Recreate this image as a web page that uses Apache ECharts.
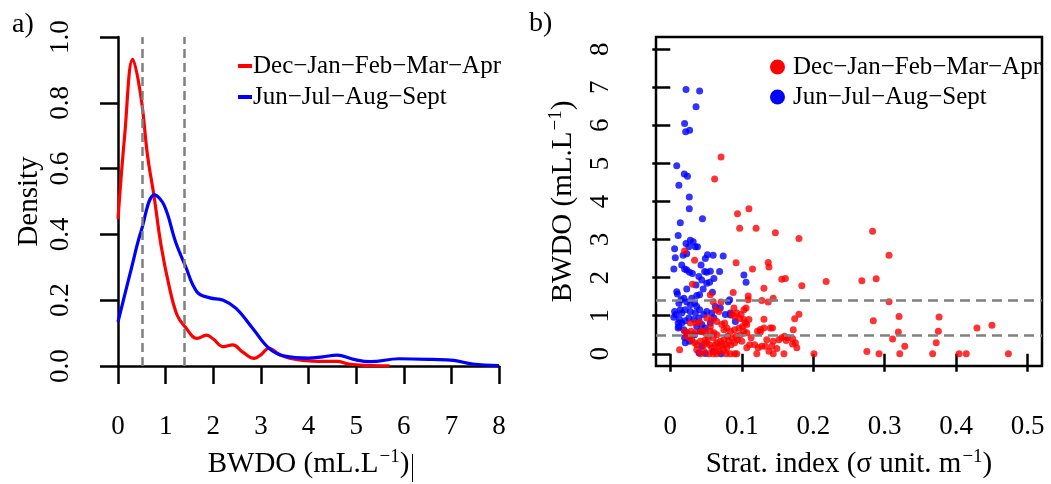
<!DOCTYPE html>
<html>
<head>
<meta charset="utf-8">
<script src="https://cdn.jsdelivr.net/npm/echarts@6/dist/echarts.min.js"></script>
<style>
  html, body { margin: 0; padding: 0; background: #ffffff; }
  #chart { width: 1051px; height: 484px; }
</style>
</head>
<body>
<div id="chart"></div>
<script>
// Season groups
const seasonWinter = 'Dec−Jan−Feb−Mar−Apr';
const seasonSummer = 'Jun−Jul−Aug−Sept';

// Panel a: kernel density of bottom-water dissolved oxygen, [BWDO, density]
const densityWinter = [
  [0, 0.447], [0.14, 0.70], [0.31, 0.932], [0.48, 0.82], [0.62, 0.64], [0.76, 0.513],
  [0.9, 0.37], [1.07, 0.245], [1.24, 0.155], [1.41, 0.119], [1.66, 0.084], [1.86, 0.094],
  [2.0, 0.082], [2.21, 0.059], [2.41, 0.064], [2.62, 0.042], [2.86, 0.023], [3.0, 0.034],
  [3.17, 0.054], [3.4, 0.034], [3.6, 0.024], [3.85, 0.018], [4.2, 0.014], [4.6, 0.014],
  [4.85, 0.006], [5.2, 0.002], [5.7, 0.0005]
];
const densitySummer = [
  [0, 0.134], [0.28, 0.296], [0.48, 0.407], [0.77, 0.52], [0.97, 0.488], [1.21, 0.377],
  [1.41, 0.306], [1.66, 0.225], [1.93, 0.207], [2.21, 0.2], [2.48, 0.175], [2.83, 0.114],
  [3.17, 0.054], [3.5, 0.03], [4.0, 0.024], [4.3, 0.028], [4.6, 0.033], [4.95, 0.02],
  [5.3, 0.013], [5.9, 0.022], [6.6, 0.02], [7.05, 0.017], [7.45, 0.006], [8, 0.001]
];

// Oxygen thresholds (mL.L-1) drawn as dashed guides in both panels
const thresholds = [0.5, 1.4];

// Tick values
const bwdoTicks = [0, 1, 2, 3, 4, 5, 6, 7, 8];
const stratTicks = [0, 0.1, 0.2, 0.3, 0.4, 0.5];

// Panel b: stratification index vs BWDO, [strat. index, BWDO]
const scatterSummer = [
  [0.022, 6.94], [0.041, 6.90], [0.036, 6.49], [0.020, 6.05], [0.0215, 5.83], [0.027, 5.87],
  [0.009, 4.94], [0.0196, 4.72], [0.024, 4.66], [0.012, 4.43], [0.0266, 4.12], [0.0266, 3.81],
  [0.045, 3.55], [0.014, 3.44], [0.011, 3.11], [0.006, 2.76], [0.007, 2.52], [0.005, 2.23],
  [0.009, 1.63], [0.010, 1.57],
  [0.022, 2.90], [0.028, 2.98], [0.032, 2.94], [0.035, 2.81], [0.038, 2.81], [0.026, 2.81],
  [0.018, 2.59], [0.023, 2.63], [0.060, 2.59], [0.074, 2.57], [0.049, 2.50], [0.043, 2.33],
  [0.016, 2.33], [0.020, 2.23], [0.023, 2.20], [0.027, 2.14], [0.031, 2.11], [0.048, 2.16],
  [0.051, 2.14], [0.056, 2.17], [0.069, 2.16], [0.040, 2.03], [0.044, 1.94], [0.061, 1.98],
  [0.051, 1.85], [0.055, 1.88], [0.036, 1.81], [0.023, 1.70], [0.046, 1.70], [0.059, 1.62],
  [0.037, 1.53], [0.041, 1.55], [0.103, 2.07], [0.106, 1.88], [0.081, 1.37], [0.030, 1.46],
  [0.006, 1.11], [0.0075, 1.03], [0.005, 0.96], [0.012, 1.33], [0.015, 1.42], [0.019, 1.46],
  [0.023, 1.36], [0.028, 1.29], [0.034, 1.33], [0.037, 1.24], [0.041, 1.16], [0.035, 1.07],
  [0.028, 1.11], [0.021, 1.16], [0.016, 1.07], [0.013, 0.90], [0.012, 0.72], [0.016, 0.81],
  [0.021, 0.87], [0.026, 0.94], [0.033, 0.90], [0.040, 0.94], [0.047, 1.03], [0.051, 1.11],
  [0.058, 1.07], [0.061, 0.94], [0.056, 0.81], [0.044, 0.77], [0.037, 0.72], [0.019, 0.63],
  [0.023, 0.55], [0.020, 0.42], [0.021, 0.29], [0.027, 0.33], [0.034, 0.50], [0.042, 0.59],
  [0.049, 0.68], [0.044, 0.20], [0.040, 0.03], [0.049, 0.01], [0.060, 0.07], [0.071, 0.0],
  [0.077, 1.03], [0.084, 1.07], [0.091, 0.85], [0.070, 1.20], [0.063, 1.24], [0.083, 1.42],
  [0.014, 1.16], [0.011, 0.81], [0.011, 0.68], [0.052, 2.60], [0.084, 1.02]
];
const scatterWinter = [
  [0.071, 5.17], [0.062, 4.59], [0.094, 3.68], [0.110, 3.81], [0.097, 3.30], [0.120, 3.30],
  [0.147, 3.18], [0.180, 3.03], [0.283, 3.22], [0.306, 2.59], [0.020, 2.70], [0.034, 2.46],
  [0.092, 2.39], [0.137, 2.40], [0.138, 2.28], [0.115, 2.23], [0.156, 1.96], [0.161, 1.98],
  [0.184, 1.79], [0.218, 1.90], [0.268, 1.92], [0.288, 1.97], [0.031, 1.83], [0.131, 1.72],
  [0.088, 1.61], [0.056, 1.55], [0.109, 1.52], [0.144, 1.46], [0.128, 1.40], [0.137, 1.36],
  [0.306, 1.37], [0.060, 1.37], [0.071, 1.36], [0.109, 1.42], [0.180, 1.04], [0.174, 0.92],
  [0.320, 0.98], [0.376, 0.97], [0.284, 0.87], [0.131, 0.91], [0.450, 0.75], [0.429, 0.68],
  [0.375, 0.59], [0.319, 0.57], [0.311, 0.39], [0.372, 0.29], [0.328, 0.20], [0.275, 0.06],
  [0.292, 0.0], [0.321, 0.0], [0.367, 0.0], [0.404, 0.0], [0.414, 0.0], [0.473, 0.0],
  [0.201, 0.0], [0.013, 0.11],
  [0.171, 0.26], [0.177, 0.16], [0.171, 0.40], [0.172, 0.63], [0.160, 0.46], [0.156, 0.42],
  [0.152, 0.37], [0.149, 0.14], [0.142, 0.20], [0.144, 0.33], [0.159, 0.0], [0.144, 0.0],
  [0.138, 0.07], [0.133, 0.20], [0.128, 0.20], [0.123, 0.16], [0.121, 0.0], [0.135, 0.37],
  [0.140, 0.68], [0.143, 0.68], [0.131, 0.68], [0.122, 0.59], [0.126, 0.57], [0.111, 0.24],
  [0.107, 0.16], [0.113, 0.42], [0.107, 0.77], [0.110, 0.90], [0.106, 1.20], [0.103, 1.16],
  [0.099, 1.03], [0.093, 1.07], [0.089, 1.20], [0.086, 1.04], [0.090, 0.98], [0.097, 0.92],
  [0.103, 0.90], [0.105, 0.81], [0.101, 0.72], [0.096, 0.68], [0.090, 0.63], [0.084, 0.59],
  [0.103, 0.59], [0.107, 0.55], [0.098, 0.50], [0.092, 0.46], [0.086, 0.42], [0.080, 0.46],
  [0.075, 0.37], [0.070, 0.33], [0.065, 0.29], [0.063, 0.24], [0.068, 0.20], [0.072, 0.24],
  [0.077, 0.24], [0.079, 0.16], [0.075, 0.09], [0.069, 0.07], [0.063, 0.07], [0.058, 0.16],
  [0.055, 0.24], [0.051, 0.29], [0.047, 0.24], [0.042, 0.33], [0.037, 0.24], [0.034, 0.29],
  [0.030, 0.37], [0.027, 0.42], [0.023, 0.46], [0.029, 0.59], [0.020, 0.59], [0.028, 0.81],
  [0.036, 0.81], [0.041, 0.83], [0.043, 0.59], [0.049, 0.55], [0.056, 0.59], [0.061, 0.55],
  [0.065, 0.50], [0.060, 0.42], [0.053, 0.42], [0.049, 0.37], [0.056, 0.72], [0.058, 0.90],
  [0.065, 0.85], [0.072, 0.77], [0.075, 0.63], [0.079, 0.68], [0.082, 0.33], [0.085, 0.24],
  [0.090, 0.29], [0.094, 0.37], [0.100, 0.33], [0.084, 0.0], [0.090, 0.0], [0.093, 0.0],
  [0.065, 0.0], [0.054, 0.0], [0.042, 0.0], [0.078, 0.0], [0.060, 0.0], [0.047, 0.07],
  [0.037, 0.11], [0.068, 1.11], [0.076, 0.81], [0.064, 1.16], [0.028, 0.50], [0.035, 0.55],
  [0.051, 0.94], [0.046, 0.59], [0.175, 0.29], [0.164, 0.42], [0.162, 0.35], [0.118, 0.24],
  [0.126, 0.64]
];

const RED = '#ff0000';
const BLUE = '#0000ff';
const FONT = "'Liberation Serif', 'DejaVu Serif', serif";
const TICK_SIZE = 27;
const TITLE_SIZE = 29;
const LINE_W = 2.5;

const titleRich = {
  t: { fontFamily: FONT, fontSize: TITLE_SIZE, color: '#000', verticalAlign: 'bottom' },
  s: { fontFamily: FONT, fontSize: 19, color: '#000', verticalAlign: 'bottom', padding: [0, 0, 12, 1] }
};
const tickStyle = { show: true, length: 18, lineStyle: { color: '#000', width: LINE_W } };
const labelStyle = { color: '#000', fontFamily: FONT, fontSize: TICK_SIZE };

function legendItem(name, icon, left, centerY, w, h, shift) {
  return {
    data: [{ name: name, icon: icon }],
    left: left, top: centerY - 15, padding: 0,
    itemWidth: w, itemHeight: h,
    selectedMode: false,
    textStyle: { color: '#000', fontFamily: FONT, fontSize: 25, lineHeight: 30, padding: [0, 0, 0, shift] }
  };
}

const chart = echarts.init(document.getElementById('chart'), null, { renderer: 'canvas' });

chart.setOption({
  backgroundColor: '#ffffff',
  animation: false,
  grid: [
    { left: 118, top: 37, width: 381, height: 331, containLabel: false },
    { left: 656, top: 37, width: 386, height: 331, containLabel: false,
      show: true, borderColor: '#000', borderWidth: LINE_W, backgroundColor: 'transparent' }
  ],
  xAxis: [
    {
      gridIndex: 0, type: 'value', min: 0, max: 8, interval: 1,
      axisLine: { show: true, onZero: false, lineStyle: { color: '#000', width: LINE_W } },
      axisTick: tickStyle,
      axisLabel: Object.assign({ margin: 47 }, labelStyle),
      splitLine: { show: false },
      name: '{t|BWDO (mL.L}{s|−1}{t|)}',
      nameLocation: 'middle', nameGap: 82,
      nameTextStyle: { rich: titleRich }
    },
    {
      gridIndex: 1, type: 'value', min: -0.02, max: 0.52,
      axisLine: { show: false },
      axisTick: Object.assign({ customValues: stratTicks }, tickStyle),
      axisLabel: Object.assign({ margin: 47, customValues: stratTicks,
        formatter: v => (v === 0 ? '0' : v.toFixed(1)) }, labelStyle),
      splitLine: { show: false },
      name: '{t|Strat. index (σ unit. m}{s|−1}{t|)}',
      nameLocation: 'middle', nameGap: 82,
      nameTextStyle: { rich: titleRich }
    }
  ],
  yAxis: [
    {
      gridIndex: 0, type: 'value', min: 0, max: 1, interval: 0.2,
      axisLine: { show: true, onZero: false, lineStyle: { color: '#000', width: LINE_W } },
      axisTick: tickStyle,
      axisLabel: Object.assign({ margin: 44, rotate: 90, formatter: v => v.toFixed(1) }, labelStyle),
      splitLine: { show: false },
      name: 'Density',
      nameLocation: 'middle', nameGap: 74,
      nameTextStyle: { color: '#000', fontFamily: FONT, fontSize: TITLE_SIZE }
    },
    {
      gridIndex: 1, type: 'value', min: -0.32, max: 8.32,
      axisLine: { show: false },
      axisTick: Object.assign({ customValues: bwdoTicks }, tickStyle),
      axisLabel: Object.assign({ margin: 42, rotate: 90, customValues: bwdoTicks,
        formatter: v => String(v) }, labelStyle),
      splitLine: { show: false },
      name: '{t|BWDO (mL.L}{s|−1}{t|)}',
      nameLocation: 'middle', nameGap: 78,
      nameTextStyle: { rich: titleRich }
    }
  ],
  legend: [
    legendItem(seasonWinter, 'rect', 238, 66, 14, 4, -4),
    legendItem(seasonSummer, 'rect', 238, 97, 14, 4, -4),
    legendItem(seasonWinter, 'circle', 770, 67, 15, 15, 3),
    legendItem(seasonSummer, 'circle', 770, 97, 15, 15, 3)
  ],
  graphic: [
    { type: 'text', left: 12, top: 11, style: { text: 'a)', fill: '#000', font: `28px ${FONT}` } },
    { type: 'text', left: 529, top: 10, style: { text: 'b)', fill: '#000', font: `28px ${FONT}` } },
    { type: 'line', shape: { x1: 412.5, y1: 454, x2: 412.5, y2: 482 }, style: { stroke: '#000', lineWidth: 1 } }
  ],
  series: [
    {
      type: 'line', xAxisIndex: 0, yAxisIndex: 0, data: [], silent: true, z: 1,
      markLine: {
        silent: true, symbol: 'none', label: { show: false },
        lineStyle: { color: '#808080', type: [9, 5], width: LINE_W },
        data: thresholds.map(v => ({ xAxis: v }))
      }
    },
    {
      name: seasonWinter, type: 'line', xAxisIndex: 0, yAxisIndex: 0, z: 3,
      data: densityWinter, smooth: 0.4, symbol: 'none',
      itemStyle: { color: RED }, lineStyle: { color: RED, width: 3.2 }
    },
    {
      name: seasonSummer, type: 'line', xAxisIndex: 0, yAxisIndex: 0, z: 3,
      data: densitySummer, smooth: 0.4, symbol: 'none',
      itemStyle: { color: BLUE }, lineStyle: { color: BLUE, width: 3.2 }
    },
    {
      name: seasonSummer, type: 'scatter', xAxisIndex: 1, yAxisIndex: 1, z: 2,
      data: scatterSummer, symbolSize: 7, itemStyle: { color: BLUE }
    },
    {
      name: seasonWinter, type: 'scatter', xAxisIndex: 1, yAxisIndex: 1, z: 3,
      data: scatterWinter, symbolSize: 7, itemStyle: { color: RED }
    },
    {
      type: 'line', xAxisIndex: 1, yAxisIndex: 1, data: [], silent: true, z: 4,
      markLine: {
        silent: true, symbol: 'none', label: { show: false },
        lineStyle: { color: '#808080', type: [10, 6], width: LINE_W },
        data: thresholds.map(v => ({ yAxis: v }))
      }
    }
  ]
});
</script>
</body>
</html>
